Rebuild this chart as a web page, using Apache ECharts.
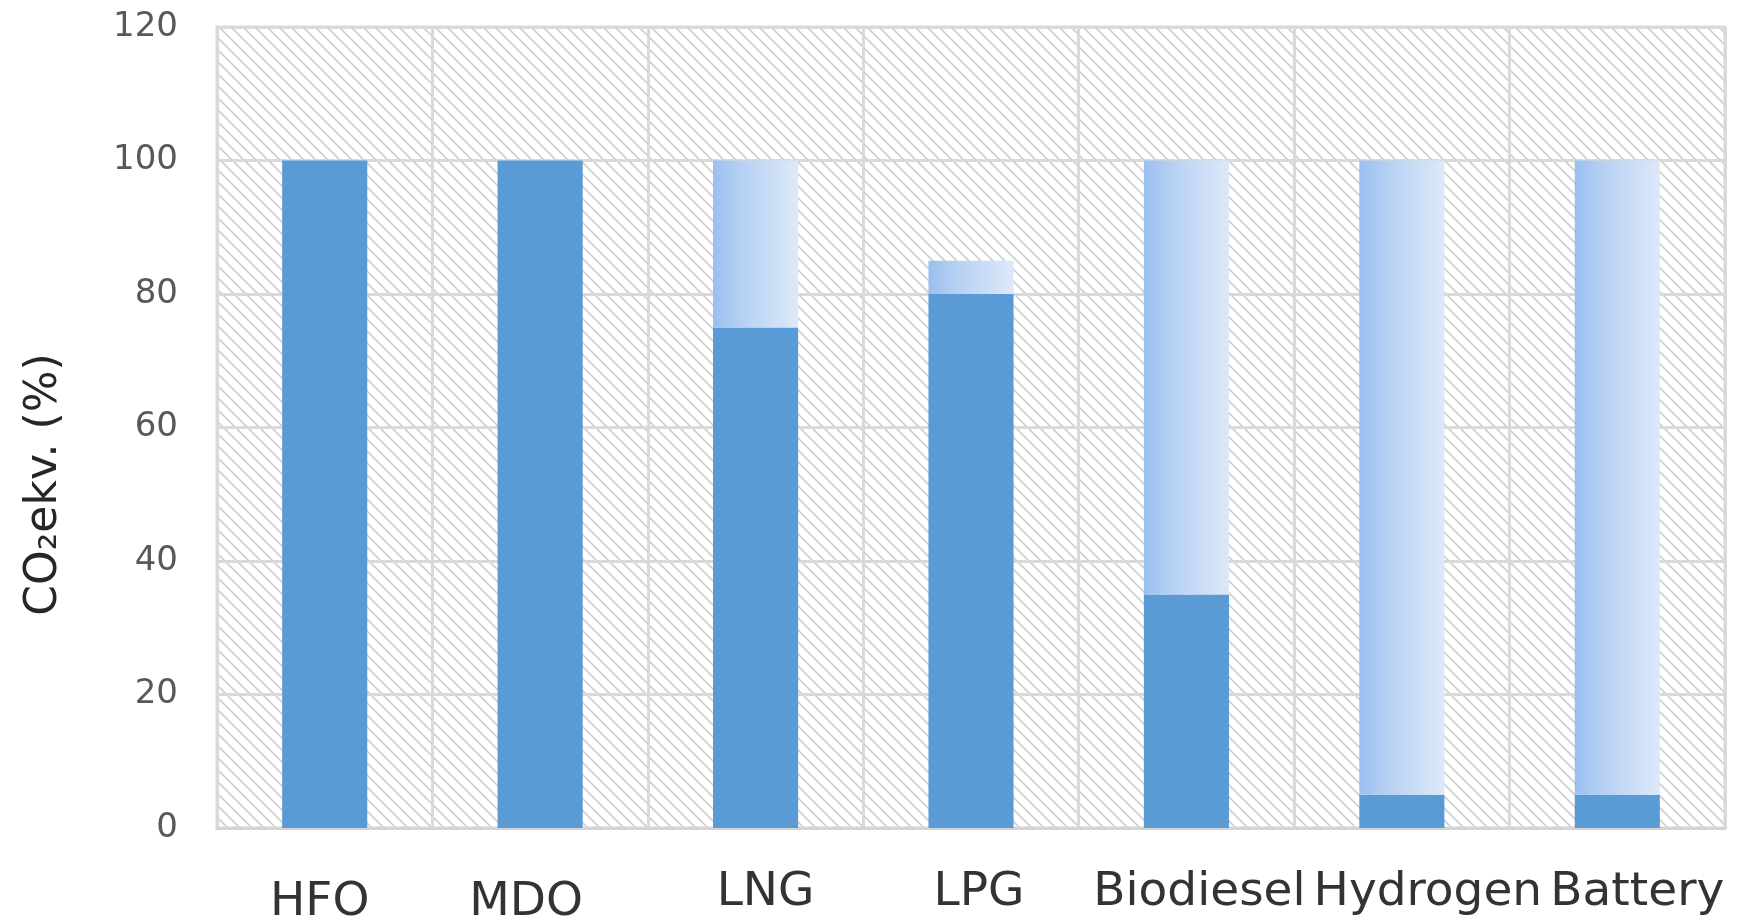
<!DOCTYPE html>
<html>
<head>
<meta charset="utf-8">
<title>CO2 ekv.</title>
<script src="https://cdn.jsdelivr.net/npm/echarts@6/dist/echarts.min.js"></script>
<style>
  html, body { margin: 0; padding: 0; background: #ffffff; }
  #chart { width: 1739px; height: 923px; }
</style>
</head>
<body>
<div id="chart"></div>
<script>
// Fuel types along the x axis
const categories = ['HFO', 'MDO', 'LNG', 'LPG', 'Biodiesel', 'Hydrogen', 'Battery'];
// Remaining CO2-equivalent emissions (%), solid part of each bar
const remaining = [100, 100, 75, 80, 35, 5, 5];
// Reduction range on top of the solid part (%), light part of each bar
const reduction = [0, 0, 25, 5, 65, 95, 95];
// Value axis ticks
const yTicks = [0, 20, 40, 60, 80, 100, 120];

// Small per-label nudges (px) of the category labels: [dx, dy]
const labelNudge = {
  HFO: [-5, 12], MDO: [-14, 12], LNG: [10, 2], LPG: [8, 2],
  Biodiesel: [13, 2], Hydrogen: [26, 2], Battery: [20, 2]
};

// Diagonal hatch tile for the plot background
function hatchTile() {
  const s = 12;
  const c = document.createElement('canvas');
  c.width = s; c.height = s;
  const g = c.getContext('2d');
  g.fillStyle = '#ffffff';
  g.fillRect(0, 0, s, s);
  g.strokeStyle = '#cecece';
  g.lineWidth = 1.6;
  g.beginPath();
  g.moveTo(-2, -2); g.lineTo(s + 2, s + 2);
  g.moveTo(-2, s - 2); g.lineTo(2, s + 2);
  g.moveTo(s - 2, -2); g.lineTo(s + 2, 2);
  g.stroke();
  return c;
}

// Rich styles so each category label can carry its own nudge
const labelRich = {};
categories.forEach(function (name, i) {
  const n = labelNudge[name] || [0, 0];
  const dx = n[0], dy = n[1];
  labelRich['c' + i] = {
    color: '#333333',
    fontFamily: 'DejaVu Sans',
    fontSize: 47,
    padding: [Math.max(dy, 0), dx < 0 ? -dx * 2 : 0, 0, dx > 0 ? dx * 2 : 0]
  };
});

const chart = echarts.init(document.getElementById('chart'), null, { renderer: 'canvas' });

const option = {
  animation: false,
  backgroundColor: '#ffffff',
  grid: {
    left: 217, right: 14, top: 27, bottom: 95,
    outerBoundsMode: 'none',
    containLabel: false,
    show: true,
    backgroundColor: { image: hatchTile(), repeat: 'repeat' },
    borderColor: '#d9d9d9',
    borderWidth: 3
  },
  xAxis: {
    type: 'category',
    data: categories,
    axisTick: { show: false },
    axisLine: { show: true, lineStyle: { color: '#d4d4d4', width: 3 } },
    axisLabel: {
      interval: 0,
      margin: 39,
      color: '#333333',
      fontFamily: 'DejaVu Sans',
      fontSize: 47,
      formatter: function (value, idx) {
        return '{c' + idx + '|' + value + '}';
      },
      rich: labelRich
    },
    splitLine: { show: true, interval: 0, lineStyle: { color: '#d9d9d9', width: 3 } }
  },
  yAxis: {
    type: 'value',
    min: yTicks[0],
    max: yTicks[yTicks.length - 1],
    interval: yTicks[1] - yTicks[0],
    name: 'CO₂ekv. (%)',
    nameLocation: 'middle',
    nameGap: 150,
    nameTextStyle: {
      color: '#262626',
      fontFamily: 'DejaVu Sans',
      fontSize: 44,
      padding: [0, 114, 0, 0]
    },
    axisLine: { show: false },
    axisTick: { show: false },
    axisLabel: {
      margin: 39,
      color: '#595959',
      fontFamily: 'DejaVu Sans',
      fontSize: 34
    },
    splitLine: { show: true, lineStyle: { color: '#d9d9d9', width: 3 } }
  },
  series: [
    {
      name: 'remaining',
      type: 'bar',
      stack: 'co2',
      barWidth: '39.5%',
      data: remaining,
      itemStyle: { color: '#5b9bd5' }
    },
    {
      name: 'reduction',
      type: 'bar',
      stack: 'co2',
      barWidth: '39.5%',
      data: reduction,
      itemStyle: {
        color: new echarts.graphic.LinearGradient(0, 0, 1, 0, [
          { offset: 0, color: '#99bff0' },
          { offset: 0.3, color: '#b4cff3' },
          { offset: 1, color: '#dde9f9' }
        ])
      }
    }
  ]
};

chart.setOption(option);
</script>
</body>
</html>
